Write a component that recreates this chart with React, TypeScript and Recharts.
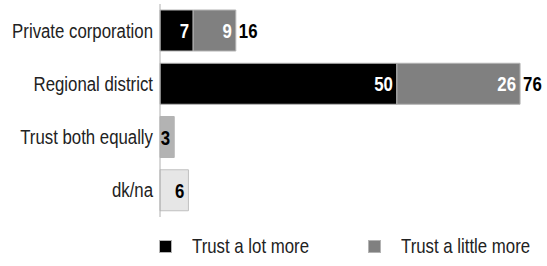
import { BarChart, Bar, XAxis, YAxis, LabelList } from 'recharts';

const categories = ['Private corporation', 'Regional district', 'Trust both equally', 'dk/na'];
const lotMore = [7, 50, null, null];
const littleMore = [9, 26, null, null];
const bothEqually = [null, null, 3, null];
const dkna = [null, null, null, 6];
const totals = [16, 76, null, null];

const legendItems = [
  { label: 'Trust a lot more', color: '#000000', left: 159 },
  { label: 'Trust a little more', color: '#808080', left: 368 },
];

const data = categories.map((name, i) => ({
  name,
  lot: lotMore[i],
  little: littleMore[i],
  equal: bothEqually[i],
  dkna: dkna[i],
  total: totals[i],
}));

// no narrow font installed, so squeeze Liberation Sans horizontally
const FONT = '"Liberation Sans", Arial, sans-serif';
const NARROW = 0.8;

const NarrowText = ({ x, y, anchor, children, ...rest }: any) => (
  <g transform={`translate(${x},${y})`}>
    <text transform={`scale(${NARROW},1)`} x={0} y={0} textAnchor={anchor} fontFamily={FONT} {...rest}>
      {children}
    </text>
  </g>
);

const CategoryTick = (props: any) => {
  const { x, y, payload } = props;
  return (
    <NarrowText x={x} y={y} anchor="end" dy={7} fontSize={21} fill="#222">
      {payload.value}
    </NarrowText>
  );
};

const inside = (color: string) => (props: any) => {
  const { x, y, width, height, value } = props;
  if (value == null || !width) return null;
  return (
    <NarrowText x={x + width - 4} y={y + height / 2} anchor="end" dy={7.5} fill={color} fontWeight="bold" fontSize={21}>
      {value}
    </NarrowText>
  );
};

const totalLabel = (props: any) => {
  const { x, y, width, height, index } = props;
  const t = totals[index];
  if (t == null) return null;
  return (
    <NarrowText x={x + width + 3} y={y + height / 2} anchor="start" dy={7.5} fill="#000" fontWeight="bold" fontSize={21}>
      {t}
    </NarrowText>
  );
};

export default function App() {
  return (
    <div style={{ position: 'absolute', left: 0, top: 0, width: 547, height: 266, background: '#fff' }}>
      <BarChart
        width={547}
        height={266}
        data={data}
        layout="vertical"
        margin={{ top: 4, right: 8, left: 0, bottom: 49 }}
      >
        <XAxis type="number" domain={[0, 80]} hide />
        <YAxis
          type="category"
          dataKey="name"
          width={160}
          tickLine={false}
          tickSize={0}
          tickMargin={7}
          axisLine={{ stroke: '#b0b0b0' }}
          tick={<CategoryTick />}
        />
        <Bar dataKey="lot" stackId="a" fill="#000" stroke="#b3b3b3" barSize={41} isAnimationActive={false}>
          <LabelList dataKey="lot" content={inside('#fff')} />
        </Bar>
        <Bar dataKey="little" stackId="a" fill="#808080" stroke="#b3b3b3" barSize={41} isAnimationActive={false}>
          <LabelList dataKey="little" content={inside('#fff')} />
          <LabelList dataKey="total" content={totalLabel} />
        </Bar>
        <Bar dataKey="equal" stackId="a" fill="#b3b3b3" stroke="#b3b3b3" barSize={41} isAnimationActive={false}>
          <LabelList dataKey="equal" content={inside('#000')} />
        </Bar>
        <Bar dataKey="dkna" stackId="a" fill="#e6e6e6" stroke="#c0c0c0" barSize={41} isAnimationActive={false}>
          <LabelList dataKey="dkna" content={inside('#000')} />
        </Bar>
      </BarChart>
      {legendItems.map((it) => (
        <div
          key={it.label}
          style={{
            position: 'absolute',
            top: 235,
            left: it.left,
            height: 22,
            width: 190,
            fontFamily: FONT,
            fontSize: 21,
            color: '#222',
            lineHeight: '22px',
            whiteSpace: 'nowrap',
          }}
        >
          <span
            style={{
              position: 'absolute',
              left: 0,
              top: 5,
              width: 11,
              height: 11,
              background: it.color,
              border: '1px solid #b3b3b3',
            }}
          />
          <span
            style={{
              position: 'absolute',
              left: 33,
              top: 0,
              display: 'inline-block',
              transform: `scaleX(${NARROW})`,
              transformOrigin: 'left center',
            }}
          >
            {it.label}
          </span>
        </div>
      ))}
    </div>
  );
}
